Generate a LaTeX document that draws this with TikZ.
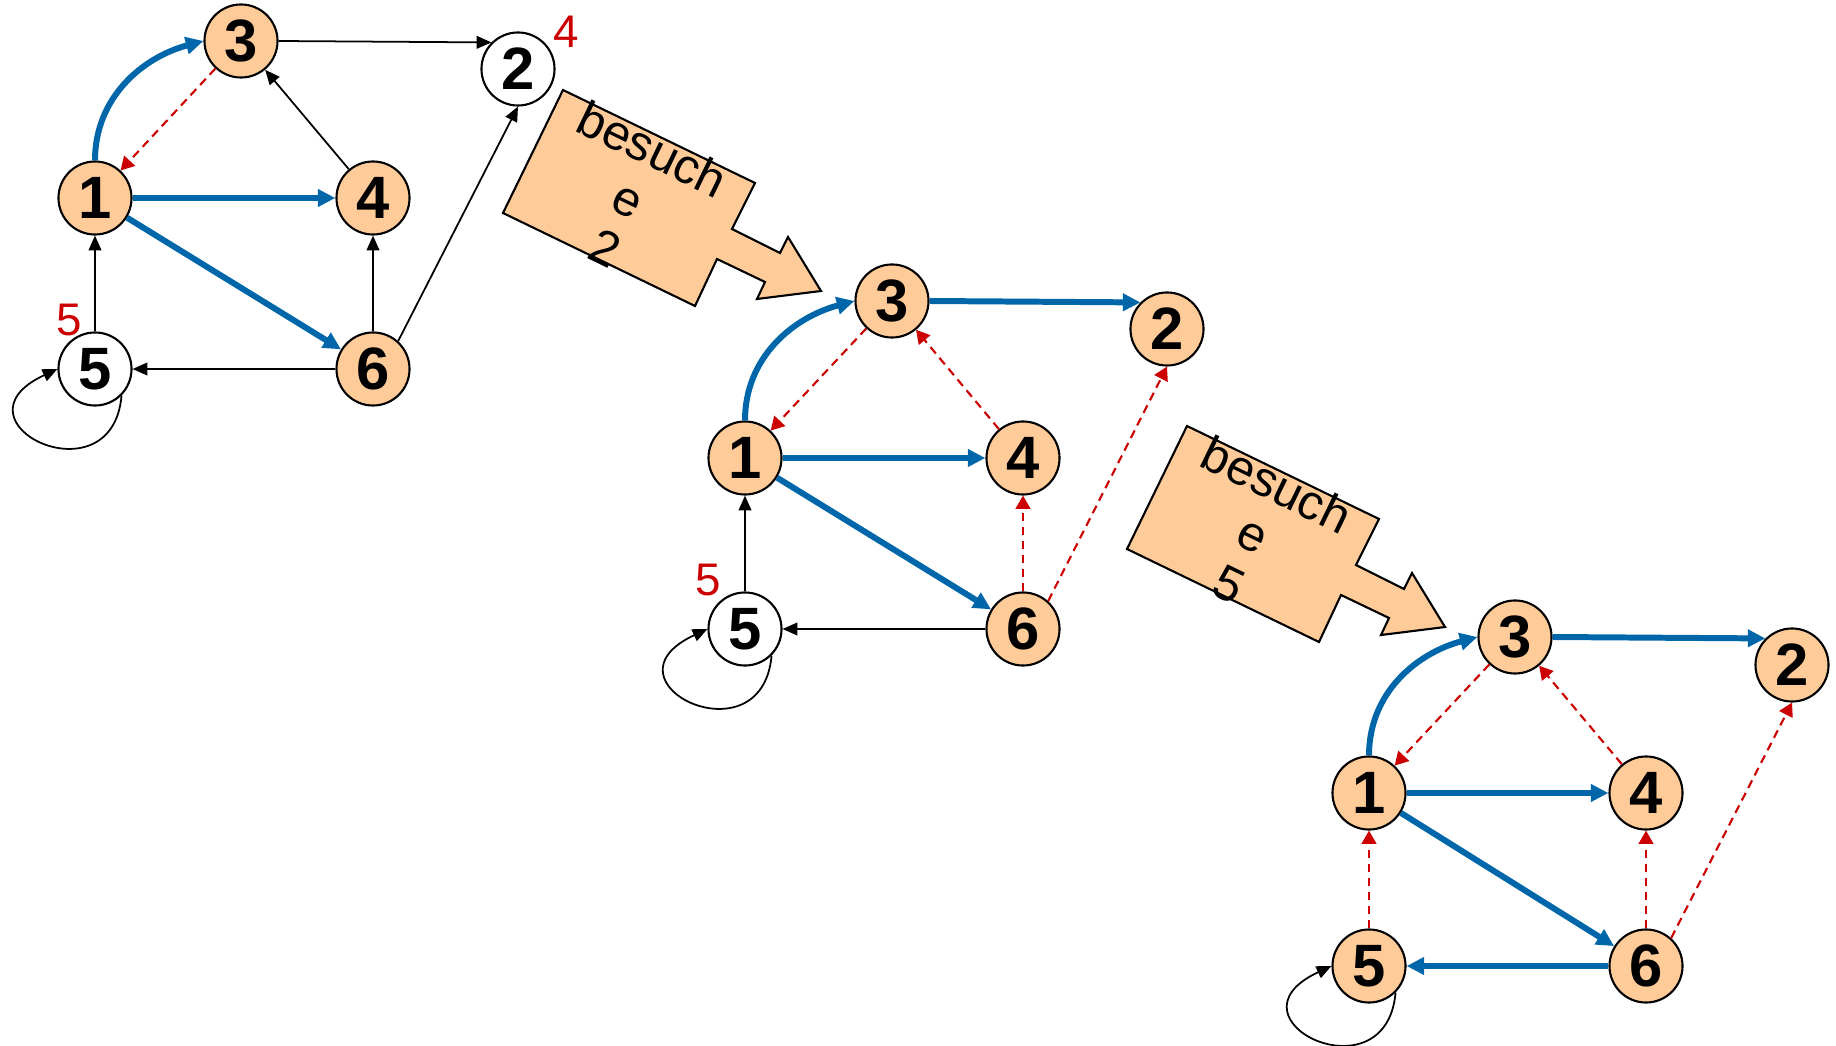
\documentclass[tikz,border=0pt]{standalone}
\usepackage{fontspec}
\setmainfont{Liberation Sans}
\usetikzlibrary{arrows.meta}

\definecolor{pfirsich}{RGB}{255,204,153}
\definecolor{baumblau}{RGB}{0,102,170}
\definecolor{rueckrot}{RGB}{204,0,0}

\begin{document}
\begin{tikzpicture}[x=0.01cm,y=0.01cm,
    knoten/.style={circle, draw, line width=0.6pt, fill=pfirsich, minimum size=0.73cm,
        inner sep=0pt, font=\fontsize{17}{17}\selectfont\bfseries},
    frei/.style={fill=white},
    baum/.style={color=baumblau, line width=1.7pt, -{Triangle[length=5pt,width=4.8pt]}},
    rueck/.style={color=rueckrot, line width=0.6pt, dash pattern=on 2.4pt off 1.6pt,
        -{Triangle[length=3.8pt,width=4.2pt]}},
    kante/.style={line width=0.5pt, -{Triangle[length=4.2pt,width=3.6pt]}},
    marke/.style={text=rueckrot, font=\fontsize{13}{13}\selectfont}]
    \useasboundingbox (0,0) rectangle (1836,-1046);

    % Pfeile "besuche ..."
    \foreach \dx/\dy/\nr in {0/0/2, 624/-336/5}{
        \begin{scope}[shift={(\dx,\dy)}]
            \filldraw[fill=pfirsich, line width=0.6pt] (563,-90) -- (755,-183) -- (732,-229)
                -- (780,-253) -- (788,-237) -- (821,-291) -- (757,-299) -- (765,-282)
                -- (717,-259) -- (695,-306) -- (503,-213) -- cycle;
            \node[rotate=-25.8, align=center, font=\fontsize{14}{15.6}\selectfont]
                (pfeil\nr) at (629,-198) {besuch\\e\\\nr};
        \end{scope}
    }

    % erster Graph
    \node[knoten] (a1) at (95,-198) {1};
    \node[knoten,frei] (a2) at (518,-69) {2};
    \node[knoten] (a3) at (241,-41) {3};
    \node[knoten] (a4) at (373,-198) {4};
    \node[knoten,frei] (a5) at (95,-369) {5};
    \node[knoten] (a6) at (373,-369) {6};
    \node[marke] (m4) at (566,-32) {4};
    \node[marke] (m5) at (69,-320) {5};
    \draw[baum] (a1.north) to[out=90,in=195] (a3.west);
    \draw[baum] (a1) -- (a4);
    \draw[baum] (a1) -- (a6);
    \draw[rueck] (a3) -- (a1);
    \draw[kante] (a3.east) -- (a2.135);
    \draw[kante] (a4) -- (a3);
    \draw[kante] (a6) -- (a4);
    \draw[kante] (a6) -- (a5);
    \draw[kante] (a5) -- (a1);
    \draw[kante] (a6.48) -- (a2.south);
    \draw[kante] (a5.-45) to[out=-95,in=205,out looseness=4,in looseness=4.6] (a5.west);

    % zweiter Graph
    \node[knoten] (b1) at (745,-458) {1};
    \node[knoten] (b2) at (1167,-329) {2};
    \node[knoten] (b3) at (892,-301) {3};
    \node[knoten] (b4) at (1023,-458) {4};
    \node[knoten,frei] (b5) at (745,-629) {5};
    \node[knoten] (b6) at (1023,-629) {6};
    \node[marke] (n5) at (708,-580) {5};
    \draw[baum] (b1.north) to[out=90,in=195] (b3.west);
    \draw[baum] (b3.east) -- (b2.135);
    \draw[baum] (b1) -- (b4);
    \draw[baum] (b1) -- (b6);
    \draw[rueck] (b3) -- (b1);
    \draw[rueck] (b4) -- (b3);
    \draw[rueck] (b6) -- (b4);
    \draw[rueck] (b6.48) -- (b2.south);
    \draw[kante] (b5) -- (b1);
    \draw[kante] (b6) -- (b5);
    \draw[kante] (b5.-45) to[out=-95,in=205,out looseness=4,in looseness=4.6] (b5.west);

    % dritter Graph
    \node[knoten] (c1) at (1369,-793) {1};
    \node[knoten] (c2) at (1792,-665) {2};
    \node[knoten] (c3) at (1515,-637) {3};
    \node[knoten] (c4) at (1646,-793) {4};
    \node[knoten] (c5) at (1369,-966) {5};
    \node[knoten] (c6) at (1646,-966) {6};
    \draw[baum] (c1.north) to[out=90,in=195] (c3.west);
    \draw[baum] (c3.east) -- (c2.135);
    \draw[baum] (c1) -- (c4);
    \draw[baum] (c1) -- (c6);
    \draw[baum] (c6) -- (c5);
    \draw[rueck] (c3) -- (c1);
    \draw[rueck] (c4) -- (c3);
    \draw[rueck] (c6) -- (c4);
    \draw[rueck] (c6.48) -- (c2.south);
    \draw[rueck] (c5) -- (c1);
    \draw[kante] (c5.-45) to[out=-95,in=205,out looseness=4,in looseness=4.6] (c5.west);
\end{tikzpicture}
\end{document}
